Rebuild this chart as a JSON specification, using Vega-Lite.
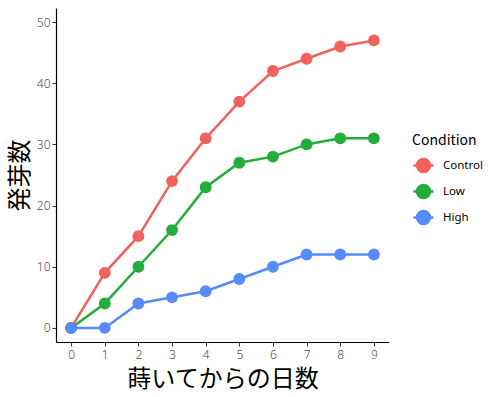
{
  "$schema": "https://vega.github.io/schema/vega-lite/v6.json",
  "width": 333,
  "height": 334,
  "autosize": "none",
  "padding": {"left": 56, "top": 8, "right": 111, "bottom": 55},
  "background": "white",
  "config": {
    "font": "Noto Sans CJK JP",
    "view": {"stroke": null},
    "axis": {"grid": false, "domainColor": "black", "domainWidth": 1.2, "tickColor": "#333333", "tickSize": 4, "labelColor": "#4D4D4D", "labelFontSize": 12, "labelFont": "Noto Sans", "labelFontWeight": 300, "titleFont": "Noto Sans CJK JP", "titleColor": "black", "titleFontSize": 24, "titleFontWeight": "normal"}
  },
  "data": {"values": [
    {"day": 0, "n": 0, "Condition": "Control"},
    {"day": 1, "n": 9, "Condition": "Control"},
    {"day": 2, "n": 15, "Condition": "Control"},
    {"day": 3, "n": 24, "Condition": "Control"},
    {"day": 4, "n": 31, "Condition": "Control"},
    {"day": 5, "n": 37, "Condition": "Control"},
    {"day": 6, "n": 42, "Condition": "Control"},
    {"day": 7, "n": 44, "Condition": "Control"},
    {"day": 8, "n": 46, "Condition": "Control"},
    {"day": 9, "n": 47, "Condition": "Control"},
    {"day": 0, "n": 0, "Condition": "Low"},
    {"day": 1, "n": 4, "Condition": "Low"},
    {"day": 2, "n": 10, "Condition": "Low"},
    {"day": 3, "n": 16, "Condition": "Low"},
    {"day": 4, "n": 23, "Condition": "Low"},
    {"day": 5, "n": 27, "Condition": "Low"},
    {"day": 6, "n": 28, "Condition": "Low"},
    {"day": 7, "n": 30, "Condition": "Low"},
    {"day": 8, "n": 31, "Condition": "Low"},
    {"day": 9, "n": 31, "Condition": "Low"},
    {"day": 0, "n": 0, "Condition": "High"},
    {"day": 1, "n": 0, "Condition": "High"},
    {"day": 2, "n": 4, "Condition": "High"},
    {"day": 3, "n": 5, "Condition": "High"},
    {"day": 4, "n": 6, "Condition": "High"},
    {"day": 5, "n": 8, "Condition": "High"},
    {"day": 6, "n": 10, "Condition": "High"},
    {"day": 7, "n": 12, "Condition": "High"},
    {"day": 8, "n": 12, "Condition": "High"},
    {"day": 9, "n": 12, "Condition": "High"}
  ]},
  "encoding": {
    "x": {"field": "day", "type": "quantitative", "title": "蒔いてからの日数",
      "scale": {"domain": [-0.45, 9.45], "nice": false, "zero": false},
      "axis": {"values": [0,1,2,3,4,5,6,7,8,9], "titlePadding": 7, "labelPadding": 3}},
    "y": {"field": "n", "type": "quantitative", "title": "発芽数",
      "scale": {"domain": [-2.3, 52.3], "nice": false, "zero": false},
      "axis": {"values": [0,10,20,30,40,50], "titlePadding": 4}},
    "color": {"field": "Condition", "type": "nominal",
      "sort": ["Control", "Low", "High"],
      "scale": {"domain": ["Control", "Low", "High"], "range": ["#F0625D", "#23AD3A", "#568BF9"]}}
  },
  "layer": [
    {"mark": {"type": "line", "strokeWidth": 2.5}, "encoding": {"detail": {"field": "Condition"}}},
    {"mark": {"type": "circle", "size": 140, "opacity": 1},
     "encoding": {"color": {"field": "Condition", "type": "nominal", "sort": ["Control", "Low", "High"],
       "legend": {"orient": "none", "legendX": 356, "legendY": 126, "title": "Condition", "titleFontSize": 14, "titleFontWeight": "normal", "titleColor": "black", "labelFont": "Noto Sans", "labelFontSize": 11.5, "labelColor": "black", "symbolType": "M-1,0L1,0M-0.65,0A0.65,0.65 0 1,1 0.65,0A0.65,0.65 0 1,1 -0.65,0Z", "symbolSize": 400, "symbolStrokeWidth": 2.5, "rowPadding": 3, "titlePadding": 6, "labelOffset": 8}}}}
  ]
}
